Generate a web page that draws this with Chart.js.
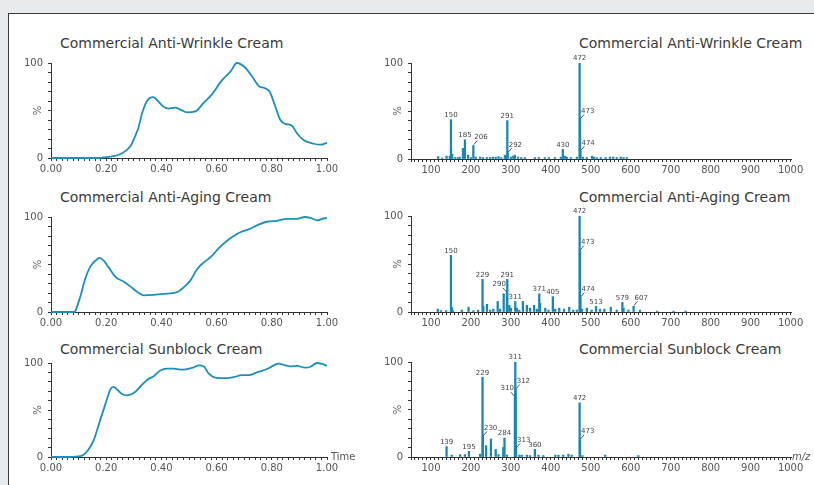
<!DOCTYPE html>
<html>
<head>
<meta charset="utf-8">
<script src="https://cdn.jsdelivr.net/npm/chart.js@4"></script>
<style>
  html, body { margin: 0; padding: 0; }
  body { width: 814px; height: 485px; overflow: hidden; background: #e8ebee; position: relative; font-family: 'DejaVu Sans', sans-serif; }
  #frame { position: absolute; left: 8px; top: 13px; width: 900px; height: 600px; background: #fff; border-top: 1px solid #3a3a3a; border-left: 1px solid #3a3a3a; }
  .title { position: absolute; font-size: 14px; line-height: 14px; color: #3a3a3a; white-space: nowrap; }
  canvas { position: absolute; }
</style>
</head>
<body>
<div id="frame"></div>
<div class="title" style="left:60px; top:36px;">Commercial Anti-Wrinkle Cream</div>
<div class="title" style="left:579px; top:36px;">Commercial Anti-Wrinkle Cream</div>
<div class="title" style="left:60px; top:190px;">Commercial Anti-Aging Cream</div>
<div class="title" style="left:579px; top:190px;">Commercial Anti-Aging Cream</div>
<div class="title" style="left:60px; top:342px;">Commercial Sunblock Cream</div>
<div class="title" style="left:579px; top:342px;">Commercial Sunblock Cream</div>
<script>
// chromatograms (time, % intensity)
const wrinkleTime = [0, 0.05, 0.10, 0.15, 0.18, 0.19, 0.215, 0.25, 0.287, 0.305, 0.318, 0.33, 0.348, 0.37, 0.384, 0.408, 0.426, 0.45, 0.469, 0.493, 0.523, 0.553, 0.583, 0.62, 0.65, 0.674, 0.704, 0.728, 0.756, 0.77, 0.792, 0.813, 0.831, 0.849, 0.873, 0.891, 0.915, 0.952, 0.976, 1.0];
const wrinkleTic = [0, 0, 0, 0, 0.2, 0.7, 1.4, 4, 12, 23, 33, 47, 60, 64, 61, 54, 52, 53, 51, 48, 49, 58, 67, 82, 91, 100, 95, 86, 75, 74, 70, 54, 40, 36, 34, 26, 19, 15, 14, 16];

const agingTime = [0, 0.04, 0.085, 0.088, 0.106, 0.124, 0.143, 0.161, 0.176, 0.191, 0.209, 0.233, 0.263, 0.287, 0.318, 0.336, 0.372, 0.408, 0.457, 0.481, 0.505, 0.529, 0.553, 0.583, 0.607, 0.638, 0.662, 0.686, 0.716, 0.752, 0.783, 0.819, 0.855, 0.891, 0.92, 0.94, 0.964, 0.982, 1.0];
const agingTic = [0, 0, 0, 1, 16, 35, 48, 54, 57, 54, 47, 37, 32, 27, 20, 17.5, 18, 19, 21, 26, 33, 45, 52, 59, 67, 75, 80, 84, 87, 92, 95, 96, 98, 98, 100, 99, 96.5, 98, 99];

const sunTime = [0, 0.05, 0.1, 0.118, 0.136, 0.155, 0.179, 0.2, 0.215, 0.227, 0.239, 0.257, 0.275, 0.3, 0.324, 0.348, 0.372, 0.396, 0.42, 0.444, 0.469, 0.493, 0.517, 0.535, 0.553, 0.571, 0.589, 0.614, 0.638, 0.662, 0.692, 0.716, 0.746, 0.783, 0.807, 0.825, 0.843, 0.867, 0.891, 0.921, 0.94, 0.964, 0.982, 1.0];
const sunTic = [0, 0, 0.7, 2.5, 8, 18, 40, 59, 72, 74.5, 72, 67, 65.6, 68, 75, 82, 86, 92, 94, 94, 93, 93.6, 95.4, 97.5, 96.5, 89, 85, 84, 84, 85, 87, 87, 90, 93.6, 97.5, 99.3, 98, 96.5, 97, 95, 96, 100, 99, 97];

// mass spectra (m/z, % intensity)
const wrinkleMz = [118, 128, 139, 147, 150, 153, 160, 167, 172, 180, 185, 193, 200, 206, 212, 223, 230, 240, 248, 255, 262, 269, 276, 285, 288, 291, 292, 300, 306, 310, 318, 326, 335, 360, 370, 385, 395, 410, 425, 430, 435, 440, 450, 465, 472, 473, 474, 480, 490, 503, 508, 515, 525, 537, 548, 556, 565, 575, 582, 590];
const wrinkleInt = [2.5, 1, 3, 3, 41, 5, 1.5, 1.5, 2, 11, 20, 4, 1.5, 14, 2, 2, 1.5, 1.5, 1.5, 2, 2, 2.5, 1.5, 4, 3, 40, 6, 2, 3, 4, 2, 1.5, 1.5, 1.5, 1.5, 1.5, 1.5, 1.5, 2, 10, 3, 2, 1.5, 2, 100, 41, 8, 2, 1.5, 3, 2, 1.5, 1.5, 1.5, 2, 2, 1.5, 2, 1.5, 1.5];
const wrinklePeaks = [150, 185, 206, 291, 292, 430, 472, 473, 474];

const agingMz = [117, 125, 138, 150, 152, 155, 177, 194, 206, 218, 229, 231, 240, 248, 256, 267, 273, 282, 290, 291, 296, 300, 311, 315, 321, 330, 340, 348, 358, 365, 371, 373, 386, 394, 405, 411, 421, 433, 446, 456, 465, 472, 473, 474, 478, 490, 502, 513, 523, 534, 550, 565, 579, 582, 594, 607, 623, 666, 707, 737];
const agingInt = [3, 1.5, 1.5, 59, 5, 1.5, 2, 5, 1.5, 2, 34, 6, 8, 2, 3, 11, 3, 19, 20, 34, 7, 4, 11, 4, 2, 11, 7, 4, 7, 3, 19, 9, 4, 2, 16, 3, 4, 3, 5, 2, 2, 100, 64, 15, 3, 4, 2, 6, 3, 3, 5, 2, 10, 4, 2, 6, 2, 1, 1, 1];
const agingPeaks = [150, 229, 290, 291, 311, 371, 405, 472, 473, 474, 513, 579, 607];

const sunMz = [139, 152, 173, 185, 195, 223, 229, 230, 238, 250, 262, 269, 281, 284, 290, 310, 311, 312, 313, 321, 327, 340, 348, 360, 369, 381, 411, 419, 431, 444, 452, 472, 473, 479, 536, 619];
const sunInt = [11, 2, 2.5, 2.5, 6, 3, 84, 21.5, 12, 19, 8, 2.5, 10, 20, 2, 63, 100, 71, 9, 2, 2, 2, 1.5, 8, 2, 1.5, 2, 2, 2, 3, 2, 57, 18, 1.5, 2, 1.5];
const sunPeaks = [139, 195, 229, 230, 284, 310, 311, 312, 313, 360, 472, 473];

// tick labels
const timeTickLabels = ['0.00', '0.20', '0.40', '0.60', '0.80', '1.00'];
const mzTickLabels = [100, 200, 300, 400, 500, 600, 700, 800, 900, 1000];
const yTickLabels = [0, 100];

const timeTicks = Array.from({length: 51}, (_, i) => i / 50);
const mzTicks = Array.from({length: 96}, (_, i) => 50 + i * 10);

// which labels get a little leader line, and on which side
const leaders = {
  wrinkle: {206: 'r', 292: 'r', 473: 'r', 474: 'r'},
  aging: {290: 'l', 473: 'r', 474: 'r', 607: 'r'},
  sun: {230: 'r', 310: 'l', 312: 'r', 313: 'r', 473: 'r'}
};

const AXIS = '#333';
const TEXT = '#555';
const LINE = '#1a8fbe';
const BAR = '#1786b3';
const PAD_LEFT = 45, PAD_TOP = 20, PAD_RIGHT = 35, PAD_BOTTOM = 30;

Chart.defaults.font.family = "'DejaVu Sans', sans-serif";
Chart.defaults.font.size = 10;
Chart.defaults.color = TEXT;

const axisText = {
  id: 'axisText',
  afterDraw(chart, args, opts) {
    const {ctx, chartArea, scales: {y}} = chart;
    ctx.save();
    ctx.fillStyle = TEXT;
    ctx.font = "10px 'DejaVu Sans'";
    ctx.textAlign = 'center';
    ctx.textBaseline = 'middle';
    ctx.translate(chartArea.left - 13, y.getPixelForValue(50));
    ctx.rotate(-Math.PI / 2);
    ctx.fillText('%', 0, 0);
    ctx.restore();
    if (opts.unit) {
      ctx.save();
      ctx.fillStyle = TEXT;
      ctx.font = (opts.italic ? 'italic ' : '') + "10px 'DejaVu Sans'";
      ctx.textAlign = 'left';
      ctx.textBaseline = 'middle';
      ctx.fillText(opts.unit, chartArea.right + opts.gap, chartArea.bottom);
      ctx.restore();
    }
  }
};

const peakLabels = {
  id: 'peakLabels',
  afterDatasetsDraw(chart, args, opts) {
    if (!opts.peaks) return;
    const {ctx, scales: {x, y}} = chart;
    const pts = chart.data.datasets[0].data;
    ctx.save();
    ctx.font = "7px 'DejaVu Sans'";
    ctx.fillStyle = '#444';
    ctx.strokeStyle = '#222';
    ctx.lineWidth = 0.8;
    ctx.textBaseline = 'bottom';
    opts.peaks.forEach(m => {
      const p = pts.find(d => d.x === m);
      const px = x.getPixelForValue(m);
      const py = y.getPixelForValue(p.y);
      const side = opts.side[m];
      if (!side) {
        ctx.textAlign = 'center';
        ctx.fillText(String(m), px, py - 1);
      } else {
        const dir = side === 'r' ? 1 : -1;
        ctx.beginPath();
        ctx.moveTo(px + dir * 0.5, py - 1);
        ctx.lineTo(px + dir * 4, py - 5);
        ctx.stroke();
        ctx.textAlign = side === 'r' ? 'left' : 'right';
        ctx.fillText(String(m), px + dir, py - 5);
      }
    });
    ctx.restore();
  }
};

function makeCanvas(box) {
  const c = document.createElement('canvas');
  const w = box.r - box.l + PAD_LEFT + PAD_RIGHT;
  const h = box.b - box.t + PAD_TOP + PAD_BOTTOM;
  c.width = w;
  c.height = h;
  c.style.left = (box.l - PAD_LEFT) + 'px';
  c.style.top = (box.t - PAD_TOP) + 'px';
  c.style.width = w + 'px';
  c.style.height = h + 'px';
  document.body.appendChild(c);
  return c.getContext('2d');
}

function yScale() {
  return {
    min: 0, max: 100,
    afterFit: s => { s.width = PAD_LEFT; },
    border: { color: AXIS, width: 1 },
    grid: { drawOnChartArea: false, tickLength: 3, color: AXIS },
    ticks: { stepSize: 10, autoSkip: false, padding: 5, callback: v => yTickLabels.includes(v) ? String(v) : '' }
  };
}

function baseOptions() {
  return {
    responsive: false,
    animation: false,
    devicePixelRatio: 1,
    layout: { padding: { left: 0, top: PAD_TOP, right: PAD_RIGHT, bottom: 0 } },
    plugins: { legend: { display: false }, tooltip: { enabled: false } }
  };
}

function chromatogram(box, time, tic, unit) {
  const opts = baseOptions();
  opts.plugins.axisText = { unit: unit, gap: 4, italic: false };
  opts.scales = {
    x: {
      type: 'linear', min: 0, max: 1,
      afterFit: s => { s.height = PAD_BOTTOM; },
      afterBuildTicks: s => { s.ticks = timeTicks.map(v => ({ value: v })); },
      border: { color: AXIS, width: 1 },
      grid: { drawOnChartArea: false, tickLength: 3, color: AXIS },
      ticks: {
        autoSkip: false, maxRotation: 0, padding: 2,
        callback: v => { const s = v.toFixed(2); return timeTickLabels.includes(s) ? s : ''; }
      }
    },
    y: yScale()
  };
  new Chart(makeCanvas(box), {
    type: 'line',
    data: {
      datasets: [{
        data: time.map((t, i) => ({ x: t, y: tic[i] })),
        borderColor: LINE,
        borderWidth: 1.8,
        pointRadius: 0,
        cubicInterpolationMode: 'monotone',
        clip: 4
      }]
    },
    options: opts,
    plugins: [axisText]
  });
}

function spectrum(box, mz, intensity, peaks, side, unit) {
  const opts = baseOptions();
  opts.plugins.axisText = { unit: unit, gap: 1, italic: true };
  opts.plugins.peakLabels = { peaks: peaks, side: side };
  opts.scales = {
    x: {
      type: 'linear', min: 50, max: 1001, offset: false,
      afterFit: s => { s.height = PAD_BOTTOM; },
      afterBuildTicks: s => { s.ticks = mzTicks.map(v => ({ value: v })); },
      border: { color: AXIS, width: 1 },
      grid: { drawOnChartArea: false, offset: false, tickLength: 3, color: AXIS },
      ticks: {
        autoSkip: false, maxRotation: 0, padding: 2,
        callback: v => mzTickLabels.includes(v) ? String(v) : ''
      }
    },
    y: yScale()
  };
  new Chart(makeCanvas(box), {
    type: 'bar',
    data: {
      datasets: [{
        data: mz.map((m, i) => ({ x: m, y: intensity[i] })),
        backgroundColor: BAR,
        barThickness: 1.6,
        grouped: false
      }]
    },
    options: opts,
    plugins: [axisText, peakLabels]
  });
}

chromatogram({ l: 51, t: 63, r: 327, b: 158 }, wrinkleTime, wrinkleTic, null);
chromatogram({ l: 51, t: 217, r: 327, b: 312 }, agingTime, agingTic, null);
chromatogram({ l: 51, t: 363, r: 327, b: 457 }, sunTime, sunTic, 'Time');

spectrum({ l: 411, t: 63, r: 791, b: 159 }, wrinkleMz, wrinkleInt, wrinklePeaks, leaders.wrinkle, null);
spectrum({ l: 411, t: 216, r: 791, b: 312 }, agingMz, agingInt, agingPeaks, leaders.aging, null);
spectrum({ l: 411, t: 362, r: 791, b: 457 }, sunMz, sunInt, sunPeaks, leaders.sun, 'm/z');
</script>
</body>
</html>
